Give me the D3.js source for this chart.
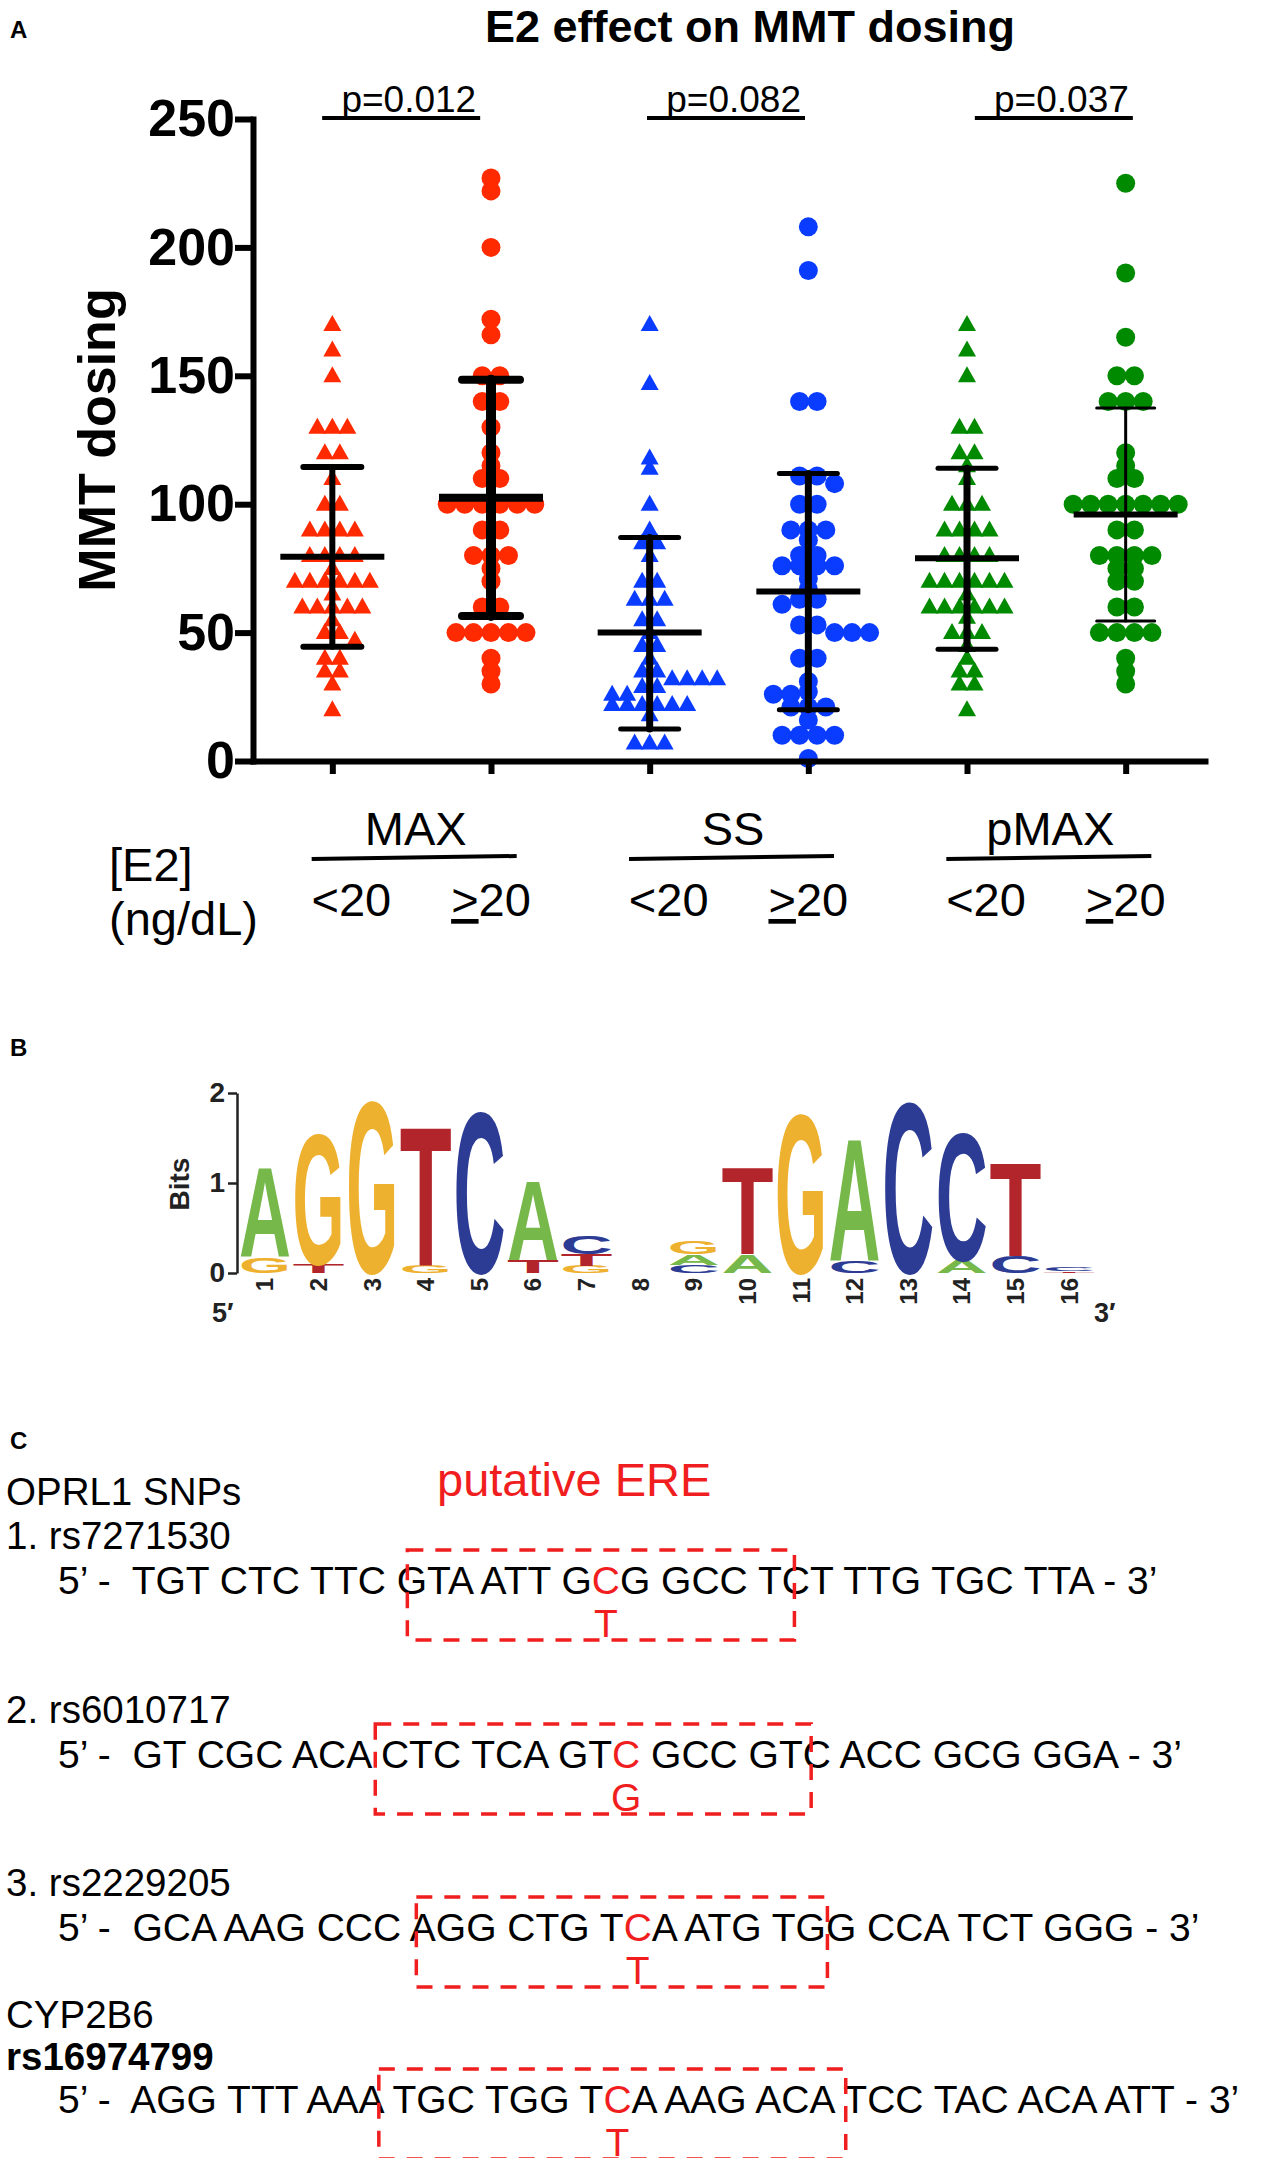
<!DOCTYPE html>
<html>
<head>
<meta charset="utf-8">
<script src="https://cdn.jsdelivr.net/npm/d3@7"></script>
<style>
body { margin: 0; background: #fff; }
svg { display: block; }
text { white-space: pre; }
</style>
</head>
<body>
<svg id="fig" width="1262" height="2158"></svg>
<script>
var FONT = '"Liberation Sans", Arial, Helvetica, sans-serif';

// ---------- panel A data ----------
var groups = ["MAX<20", "MAX>=20", "SS<20", "SS>=20", "pMAX<20", "pMAX>=20"];
var maxLow = [170,160,150,130,130,130,120,120,110,100,100,90,90,90,90,80,80,80,80,75,70,70,70,70,70,70,65,60,60,60,60,60,55,50,50,47,40,40,35,35,30,20];
var maxHigh = [227,222,200,172,166,150,150,140,140,130,120,115,110,110,100,100,100,100,100,100,90,90,80,80,80,75,70,60,60,50,50,50,50,50,40,35,30];
var ssLow = [170,147,118,114,100,90,85,85,80,70,70,63,63,63,55,55,50,45,45,40,35,35,32,32,32,32,29,29,26,26,22,22,22,22,22,22,18,7,7,7];
var ssHigh = [208,191,140,140,111,111,108,100,100,90,90,90,86,80,80,76,76,76,76,71,67,63,63,61,53,53,50,50,50,40,40,31,27,26,26,21,21,21,16,10,10,10,10,1];
var pmaxLow = [170,160,150,130,130,120,120,115,110,100,100,100,90,90,90,90,80,80,80,80,70,70,70,70,70,70,65,60,60,60,60,60,60,56,50,50,50,45,40,35,35,30,30,20];
var pmaxHigh = [225,190,165,150,150,140,140,140,120,115,110,110,100,100,100,100,100,100,100,90,90,80,80,80,80,75,75,70,70,60,60,50,50,50,50,40,35,30];
var groupMeans = [79.5, 102.5, 50, 66, 79, 96];
var sdLower = [44.5, 56.5, 12.5, 20, 43.5, 54.5];
var sdUpper = [114.5, 148.5, 87, 112, 114, 137.5];
var pValues = ["p=0.012", "p=0.082", "p=0.037"];
var treatments = ["MAX", "SS", "pMAX"];
var yTicks = [0, 50, 100, 150, 200, 250];

// ---------- panel B data (bits per position) ----------
var logoPos = d3.range(1, 17);
var bitsA = [1.02,0,0,0,0,0.9,0,0,0.12,0.21,0,1.4,0,0.15,0,0];
var bitsC = [0,0,0,0,1.84,0,0.2,0,0.09,0,0,0.13,1.94,1.46,0.19,0.05];
var bitsG = [0.18,1.49,1.96,0.08,0,0,0.08,0,0.14,0,1.81,0,0,0,0,0];
var bitsT = [0,0.1,0,1.59,0,0.15,0.13,0,0,0.99,0,0,0,0,1.07,0.02];

// ---------- panel C data ----------
var snpLabels = ["1. rs7271530", "2. rs6010717", "3. rs2229205", "rs16974799"];
var sequences = [
  "TGT CTC TTC GTA ATT GCG GCC TCT TTG TGC TTA",
  "GT CGC ACA CTC TCA GTC GCC GTC ACC GCG GGA",
  "GCA AAG CCC AGG CTG TCA ATG TGG CCA TCT GGG",
  "AGG TTT AAA TGC TGG TCA AAG ACA TCC TAC ACA ATT"
];
var snpIndex = [21, 21, 21, 21];
var altAllele = ["T", "G", "T", "T"];

var svg = d3.select("#fig").attr("font-family", FONT);
svg.append("rect").attr("width", 1262).attr("height", 2158).attr("fill", "#fff");

// =============== PANEL A ===============
var pairColors = ["#ff2a00", "#0a3cff", "#008a00"];
var x = d3.scalePoint().domain(groups).range([253, 1205]).padding(0.5);
var y = d3.scaleLinear().domain([0, 250]).range([761, 119]);

svg.append("text").attr("x", 10).attr("y", 38).attr("font-size", 24)
  .attr("font-weight", "bold").text("A");
svg.append("text").attr("x", 750).attr("y", 42).attr("text-anchor", "middle")
  .attr("font-size", 45).attr("font-weight", "bold").text("E2 effect on MMT dosing");

// beeswarm offsets: rows of equal values spread symmetrically,
// rows that bump into a neighbour get pushed sideways (alternating sides)
function swarm(vals, step, th) {
  var order = d3.range(vals.length).sort(function(a, b) { return vals[b] - vals[a]; });
  var rows = d3.groups(order, function(i) { return vals[i]; });
  var placed = [], out = [], side = 1;
  function free(yy, dx) {
    return placed.every(function(p) { return Math.abs(p.y - yy) >= th || Math.abs(p.dx - dx) >= step * 0.98; });
  }
  function cands() {
    var c = [0];
    for (var k = 1; k <= 20; k++) c.push(side * k * step / 2, -side * k * step / 2);
    return c;
  }
  rows.forEach(function(r) {
    var idx = r[1], n = idx.length, yy = y(r[0]), done = false, cs = cands();
    for (var c = 0; c < 17 && !done; c++) {
      var offs = idx.map(function(_, j) { return cs[c] + (j - (n - 1) / 2) * step; });
      if (offs.every(function(o) { return free(yy, o); })) {
        idx.forEach(function(i, j) { out[i] = offs[j]; placed.push({y: yy, dx: offs[j]}); });
        if (cs[c] !== 0) side = -Math.sign(cs[c]);
        done = true;
      }
    }
    if (!done) idx.forEach(function(i) {
      for (var c = 0; c < cs.length; c++) {
        if (free(yy, cs[c])) { out[i] = cs[c]; placed.push({y: yy, dx: cs[c]}); break; }
      }
      side = -side; cs = cands();
    });
  });
  return out;
}

var groupVals = [maxLow, maxHigh, ssLow, ssHigh, pmaxLow, pmaxHigh];
var triPath = "M0,-9.5L9,6.5L-9,6.5Z";
var gPts = svg.append("g");
groupVals.forEach(function(vals, gi) {
  var isTri = gi % 2 === 0;
  var offs = swarm(vals, isTri ? 15 : 17.5, 9);
  var col = pairColors[Math.floor(gi / 2)];
  var sel = gPts.selectAll(".p" + gi).data(vals).enter();
  if (isTri) {
    sel.append("path").attr("d", triPath).attr("fill", col)
      .attr("transform", function(d, i) { return "translate(" + (x(groups[gi]) + offs[i]) + "," + y(d) + ")"; });
  } else {
    sel.append("circle").attr("r", 9.5).attr("fill", col)
      .attr("cx", function(d, i) { return x(groups[gi]) + offs[i]; })
      .attr("cy", function(d) { return y(d); });
  }
});

// mean +/- SD bars
var vertW = [6, 10, 7, 7, 7, 3], capW = [6, 8, 5, 5, 5, 3], meanW = [6, 8, 6, 6, 6, 6];
var gBars = svg.append("g").attr("stroke", "#000").attr("stroke-linecap", "round");
groups.forEach(function(g, i) {
  var cx = x(g);
  gBars.append("line").attr("x1", cx).attr("x2", cx).attr("y1", y(sdLower[i])).attr("y2", y(sdUpper[i])).attr("stroke-width", vertW[i]);
  [sdLower[i], sdUpper[i]].forEach(function(v) {
    gBars.append("line").attr("x1", cx - 29).attr("x2", cx + 29).attr("y1", y(v)).attr("y2", y(v)).attr("stroke-width", capW[i]);
  });
  gBars.append("line").attr("x1", cx - 52).attr("x2", cx + 52).attr("y1", y(groupMeans[i])).attr("y2", y(groupMeans[i]))
    .attr("stroke-width", meanW[i]).attr("stroke-linecap", "butt");
});

// axes
var yAx = svg.append("g").attr("transform", "translate(253,0)")
  .call(d3.axisLeft(y).tickValues(yTicks).tickSize(18).tickSizeOuter(0).tickPadding(0));
yAx.attr("font-family", FONT).attr("font-size", 52).attr("font-weight", "bold");
yAx.selectAll("line").attr("stroke-width", 6);
yAx.select(".domain").attr("stroke-width", 6).attr("stroke-linecap", "square");
yAx.selectAll("text").attr("fill", "#000");

var xAx = svg.append("g").attr("transform", "translate(0,761)")
  .call(d3.axisBottom(x).tickSize(13).tickSizeOuter(0).tickFormat(""));
xAx.selectAll("line").attr("stroke-width", 6);
xAx.select(".domain").attr("stroke-width", 6).attr("stroke-linecap", "square");

svg.append("text").attr("transform", "translate(115,440) rotate(-90)").attr("text-anchor", "middle")
  .attr("font-size", 52).attr("font-weight", "bold").text("MMT dosing");

// p-value brackets
var pShift = [-10.5, -3, 7.5];
pValues.forEach(function(p, k) {
  var mid = (x(groups[2 * k]) + x(groups[2 * k + 1])) / 2 + pShift[k];
  svg.append("line").attr("x1", mid - 79).attr("x2", mid + 79).attr("y1", 118).attr("y2", 118)
    .attr("stroke", "#000").attr("stroke-width", 4);
  svg.append("text").attr("x", mid + 75).attr("y", 112).attr("text-anchor", "end")
    .attr("font-size", 37).text(p);
});

// category labels
treatments.forEach(function(t, k) {
  var g0 = x(groups[2 * k]), g1 = x(groups[2 * k + 1]), mid = (g0 + g1) / 2 + 4;
  svg.append("text").attr("x", mid).attr("y", 845).attr("text-anchor", "middle").attr("font-size", 47).text(t);
  svg.append("line").attr("x1", mid - 104).attr("x2", mid + 101).attr("y1", 859).attr("y2", 856)
    .attr("stroke", "#000").attr("stroke-width", 4);
  svg.append("text").attr("x", g0 + 19).attr("y", 916).attr("text-anchor", "middle").attr("font-size", 47).text("<20");
  var ge = svg.append("text").attr("x", g1).attr("y", 916).attr("text-anchor", "middle").attr("font-size", 47);
  ge.append("tspan").attr("text-decoration", "underline").text(">");
  ge.append("tspan").text("20");
});
svg.append("text").attr("x", 109).attr("y", 881).attr("font-size", 47).text("[E2]");
svg.append("text").attr("x", 109).attr("y", 935).attr("font-size", 47).text("(ng/dL)");

// =============== PANEL B ===============
svg.append("text").attr("x", 10).attr("y", 1056).attr("font-size", 24).attr("font-weight", "bold").text("B");
var letterColor = {A: "#76b84a", C: "#2c3b94", G: "#eeb12f", T: "#b2252b"};
var xLogo = d3.scaleBand().domain(logoPos).range([239, 1095]).paddingInner(0.03);
var yLogo = d3.scaleLinear().domain([0, 2]).range([1273, 1093]);
var gLogo = svg.append("g");
logoPos.forEach(function(p, i) {
  var stack = [{b: "A", h: bitsA[i]}, {b: "C", h: bitsC[i]}, {b: "G", h: bitsG[i]}, {b: "T", h: bitsT[i]}]
    .filter(function(d) { return d.h > 0; })
    .sort(function(a, b) { return a.h - b.h; });
  var base = 0;
  stack.forEach(function(d) {
    var y0 = yLogo(base), y1 = yLogo(base + d.h);
    base += d.h;
    var t = gLogo.append("text").attr("font-size", 100).attr("font-weight", "bold")
      .attr("font-family", "'Liberation Sans', Arial, sans-serif").attr("fill", letterColor[d.b]).text(d.b);
    var w = t.node().getComputedTextLength();
    t.attr("transform", "translate(" + xLogo(p) + "," + y0 + ") scale(" + (xLogo.bandwidth() / w) + "," + ((y0 - y1) / 72) + ")");
  });
});
var bAx = svg.append("g").attr("transform", "translate(237,0)")
  .call(d3.axisLeft(yLogo).tickValues([0, 1, 2]).tickFormat(d3.format("d")).tickSize(9).tickSizeOuter(0).tickPadding(3));
bAx.attr("font-family", FONT).attr("font-size", 28).attr("font-weight", "bold");
bAx.selectAll("line").attr("stroke-width", 2.5).attr("stroke", "#222");
bAx.select(".domain").attr("stroke-width", 2.5).attr("stroke", "#222");
bAx.selectAll("text").attr("fill", "#222");
svg.append("text").attr("transform", "translate(189,1184) rotate(-90)").attr("text-anchor", "middle")
  .attr("font-size", 28).attr("font-weight", "bold").attr("fill", "#222").text("Bits");
logoPos.forEach(function(p) {
  svg.append("text").attr("transform", "translate(" + (xLogo(p) + xLogo.bandwidth() / 2 + 8.5) + ",1278) rotate(-90)")
    .attr("text-anchor", "end").attr("font-size", 24).attr("font-weight", "bold").attr("fill", "#222").text(p);
});
svg.append("text").attr("x", 212).attr("y", 1322).attr("font-size", 27).attr("font-weight", "bold").attr("fill", "#222").text("5\u2032");
svg.append("text").attr("x", 1094).attr("y", 1322).attr("font-size", 27).attr("font-weight", "bold").attr("fill", "#222").text("3\u2032");

// =============== PANEL C ===============
svg.append("text").attr("x", 10).attr("y", 1449).attr("font-size", 24).attr("font-weight", "bold").text("C");
var RED = "#f01e1e";
svg.append("text").attr("x", 437).attr("y", 1496).attr("font-size", 47).attr("fill", RED).text("putative ERE");
svg.append("text").attr("x", 6).attr("y", 1505).attr("font-size", 38.5).text("OPRL1 SNPs");
svg.append("text").attr("x", 6).attr("y", 2028).attr("font-size", 38.5).text("CYP2B6");

var labelY = [1549, 1723, 1896, 2070];
var seqY = [1594, 1768, 1941, 2113];
var boxEdges = [[12, 0.35, 29, 0.45], [11, -0.2, 29, 0.3], [12, 0.25, 30, 0.05], [10, 0.85, 32, 0.1]];
var PREFIX = "5\u2019 -  ", SUFFIX = " - 3\u2019";
sequences.forEach(function(s, k) {
  svg.append("text").attr("x", 6).attr("y", labelY[k]).attr("font-size", 38.5)
    .attr("font-weight", k === 3 ? "bold" : null).text(snpLabels[k]);
  var t = svg.append("text").attr("x", 58).attr("y", seqY[k]).attr("font-size", 39);
  t.append("tspan").text(PREFIX + s.slice(0, snpIndex[k]));
  t.append("tspan").attr("fill", RED).text(s[snpIndex[k]]);
  t.append("tspan").text(s.slice(snpIndex[k] + 1) + SUFFIX);
  var node = t.node(), off = PREFIX.length;
  var snp = node.getExtentOfChar(off + snpIndex[k]);
  svg.append("text").attr("x", snp.x + snp.width / 2).attr("y", seqY[k] + 43).attr("text-anchor", "middle")
    .attr("font-size", 39).attr("fill", RED).text(altAllele[k]);
  var e = boxEdges[k];
  var l = node.getExtentOfChar(off + e[0]), r = node.getExtentOfChar(off + e[2]);
  var x0 = l.x + e[1] * l.width, x1 = r.x + e[3] * r.width;
  svg.append("rect").attr("x", x0).attr("y", seqY[k] - 44).attr("width", x1 - x0).attr("height", 90)
    .attr("fill", "none").attr("stroke", RED).attr("stroke-width", 3.5).attr("stroke-dasharray", "16,12");
});
</script>
</body>
</html>
